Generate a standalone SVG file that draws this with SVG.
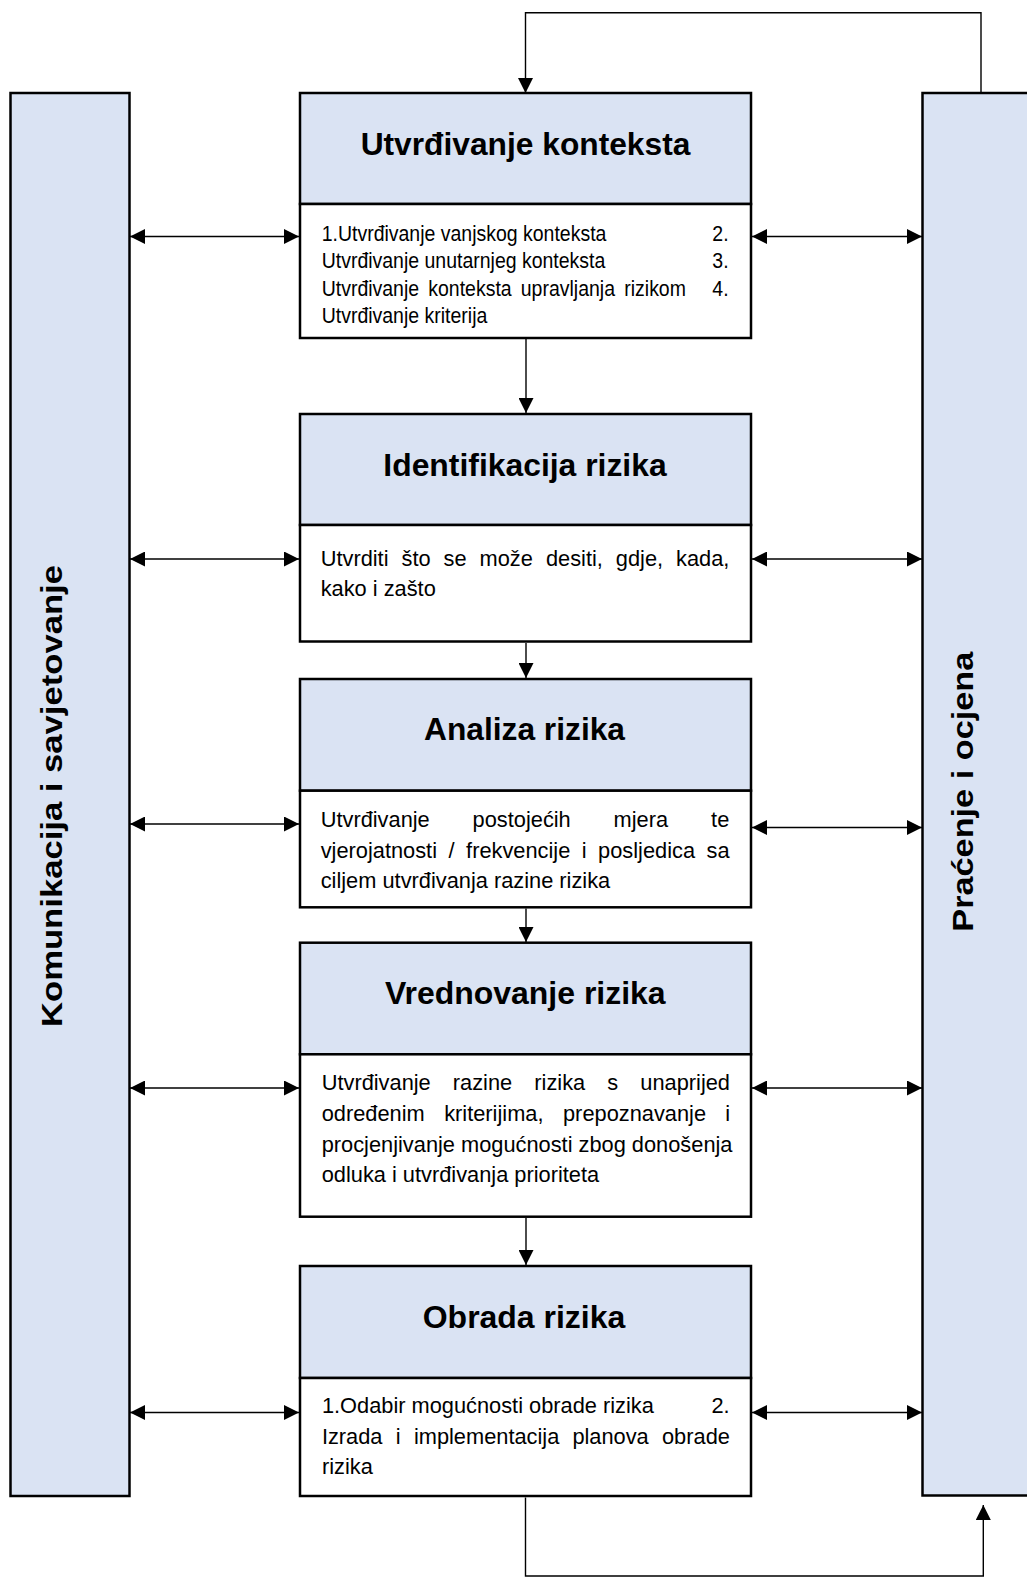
<svg xmlns="http://www.w3.org/2000/svg" width="1027" height="1577" viewBox="0 0 1027 1577">
<style>
.bg{fill:#ffffff}
.hdr{fill:#dae3f3;stroke:#000;stroke-width:2.5}
.bod{fill:#ffffff;stroke:#000;stroke-width:2.5}
.side{fill:#dae3f3;stroke:#000;stroke-width:2.5}
.ttl{font-family:"Liberation Sans",Arial,sans-serif;font-weight:bold;font-size:31px;fill:#000;text-anchor:middle}
.stxt{font-family:"Liberation Sans",Arial,sans-serif;font-weight:bold;font-size:30px;fill:#000;text-anchor:middle}
.txt{font-family:"Liberation Sans",Arial,sans-serif;font-size:21.8px;fill:#000}
.txt1{font-family:"Liberation Sans",Arial,sans-serif;font-size:22px;fill:#000}
.con{fill:none;stroke:#000;stroke-width:1.4}
</style>
<defs>
<marker id="ah" viewBox="0 0 15 15" refX="15" refY="7.5" markerWidth="15" markerHeight="15" markerUnits="userSpaceOnUse" orient="auto-start-reverse">
<path d="M0,0 L15,7.5 L0,15 Z" fill="#000"/>
</marker>
</defs>
<rect class="bg" x="0" y="0" width="1027" height="1577"/>

<g id="komunikacija">
<rect class="side" x="10.5" y="93" width="119" height="1403"/>
<text class="stxt" transform="translate(62,796) rotate(-90)" x="0" y="0" textLength="462" lengthAdjust="spacingAndGlyphs">Komunikacija i savjetovanje</text>
</g>

<g id="pracenje">
<rect class="side" x="922.5" y="93" width="120" height="1402.5"/>
<text class="stxt" transform="translate(973,791.7) rotate(-90)" x="0" y="0" textLength="280" lengthAdjust="spacingAndGlyphs">Praćenje i ocjena</text>
</g>

<g id="kontekst">
<rect class="hdr" x="300" y="93" width="451" height="111"/>
<rect class="bod" x="300" y="204" width="451" height="134"/>
<text class="ttl" x="525.5" y="155" textLength="329.7" lengthAdjust="spacingAndGlyphs">Utvrđivanje konteksta</text>
<g transform="translate(321.7,0) scale(0.886,1)">
<text class="txt1" x="0" y="240.7">1.Utvrđivanje vanjskog konteksta</text>
<text class="txt1" x="440.9" y="240.7">2.</text>
<text class="txt1" x="0" y="268.3">Utvrđivanje unutarnjeg konteksta</text>
<text class="txt1" x="440.9" y="268.3">3.</text>
<text class="txt1" y="296"><tspan x="0">Utvrđivanje</tspan><tspan x="120.3">konteksta</tspan><tspan x="224.7">upravljanja</tspan><tspan x="341.5">rizikom</tspan></text>
<text class="txt1" x="440.9" y="296">4.</text>
<text class="txt1" x="0" y="323.3">Utvrđivanje kriterija</text>
</g>
</g>

<g id="identifikacija">
<rect class="hdr" x="300" y="414" width="451" height="111"/>
<rect class="bod" x="300" y="525" width="451" height="116.5"/>
<text class="ttl" x="525" y="475.7" textLength="283.3" lengthAdjust="spacingAndGlyphs">Identifikacija rizika</text>
<text class="txt" y="565.7"><tspan x="320.7">Utvrditi</tspan><tspan x="401.5">što</tspan><tspan x="443.6">se</tspan><tspan x="479.6">može</tspan><tspan x="545.9">desiti,</tspan><tspan x="615.8">gdje,</tspan><tspan x="676.1">kada,</tspan></text>
<text class="txt" x="320.7" y="595.7">kako i zašto</text>
</g>

<g id="analiza">
<rect class="hdr" x="300" y="679" width="451" height="111.7"/>
<rect class="bod" x="300" y="790.7" width="451" height="116.6"/>
<text class="ttl" x="524.5" y="740" textLength="201" lengthAdjust="spacingAndGlyphs">Analiza rizika</text>
<text class="txt" y="827.3"><tspan x="320.7">Utvrđivanje</tspan><tspan x="472.6">postojećih</tspan><tspan x="613.6">mjera</tspan><tspan x="711.1">te</tspan></text>
<text class="txt" y="858.3"><tspan x="320.7">vjerojatnosti</tspan><tspan x="448.5">/</tspan><tspan x="466.1">frekvencije</tspan><tspan x="581.8">i</tspan><tspan x="598.1">posljedica</tspan><tspan x="706.5">sa</tspan></text>
<text class="txt" x="320.7" y="888.3">ciljem utvrđivanja razine rizika</text>
</g>

<g id="vrednovanje">
<rect class="hdr" x="300" y="942.7" width="451" height="111.6"/>
<rect class="bod" x="300" y="1054.3" width="451" height="162.4"/>
<text class="ttl" x="525.3" y="1004" textLength="280.7" lengthAdjust="spacingAndGlyphs">Vrednovanje rizika</text>
<text class="txt" y="1090"><tspan x="321.7">Utvrđivanje</tspan><tspan x="452.8">razine</tspan><tspan x="534.3">rizika</tspan><tspan x="607.3">s</tspan><tspan x="640.3">unaprijed</tspan></text>
<text class="txt" y="1120.7"><tspan x="321.7">određenim</tspan><tspan x="444.2">kriterijima,</tspan><tspan x="563">prepoznavanje</tspan><tspan x="725.2">i</tspan></text>
<text class="txt" x="321.7" y="1151.7">procjenjivanje mogućnosti zbog donošenja</text>
<text class="txt" x="321.7" y="1181.7">odluka i utvrđivanja prioriteta</text>
</g>

<g id="obrada">
<rect class="hdr" x="300" y="1266" width="451" height="112"/>
<rect class="bod" x="300" y="1378" width="451" height="118"/>
<text class="ttl" x="524" y="1328.3" textLength="202.5" lengthAdjust="spacingAndGlyphs">Obrada rizika</text>
<text class="txt" x="321.9" y="1413.3">1.Odabir mogućnosti obrade rizika</text>
<text class="txt" x="711.5" y="1413.3">2.</text>
<text class="txt" y="1444.3"><tspan x="321.9">Izrada</tspan><tspan x="395.8">i</tspan><tspan x="413.9">implementacija</tspan><tspan x="572.4">planova</tspan><tspan x="662">obrade</tspan></text>
<text class="txt" x="321.9" y="1474">rizika</text>
</g>

<g id="connectors">
<path class="con" d="M981,93 V12.7 H525.5 V93" marker-end="url(#ah)"/>
<path class="con" d="M525.5,1497.5 V1576 H983.3 V1505" marker-end="url(#ah)"/>
<line class="con" x1="526" y1="339" x2="526" y2="413" marker-end="url(#ah)"/>
<line class="con" x1="526" y1="643" x2="526" y2="678" marker-end="url(#ah)"/>
<line class="con" x1="526" y1="908.5" x2="526" y2="942" marker-end="url(#ah)"/>
<line class="con" x1="526" y1="1218" x2="526" y2="1265" marker-end="url(#ah)"/>
<line class="con" x1="130" y1="236.5" x2="299" y2="236.5" marker-start="url(#ah)" marker-end="url(#ah)"/>
<line class="con" x1="752" y1="236.5" x2="922" y2="236.5" marker-start="url(#ah)" marker-end="url(#ah)"/>
<line class="con" x1="130" y1="559" x2="299" y2="559" marker-start="url(#ah)" marker-end="url(#ah)"/>
<line class="con" x1="752" y1="559" x2="922" y2="559" marker-start="url(#ah)" marker-end="url(#ah)"/>
<line class="con" x1="130" y1="824" x2="299" y2="824" marker-start="url(#ah)" marker-end="url(#ah)"/>
<line class="con" x1="752" y1="827.5" x2="922" y2="827.5" marker-start="url(#ah)" marker-end="url(#ah)"/>
<line class="con" x1="130" y1="1088" x2="299" y2="1088" marker-start="url(#ah)" marker-end="url(#ah)"/>
<line class="con" x1="752" y1="1088" x2="922" y2="1088" marker-start="url(#ah)" marker-end="url(#ah)"/>
<line class="con" x1="130" y1="1412.5" x2="299" y2="1412.5" marker-start="url(#ah)" marker-end="url(#ah)"/>
<line class="con" x1="752" y1="1412.5" x2="922" y2="1412.5" marker-start="url(#ah)" marker-end="url(#ah)"/>
</g>
</svg>
